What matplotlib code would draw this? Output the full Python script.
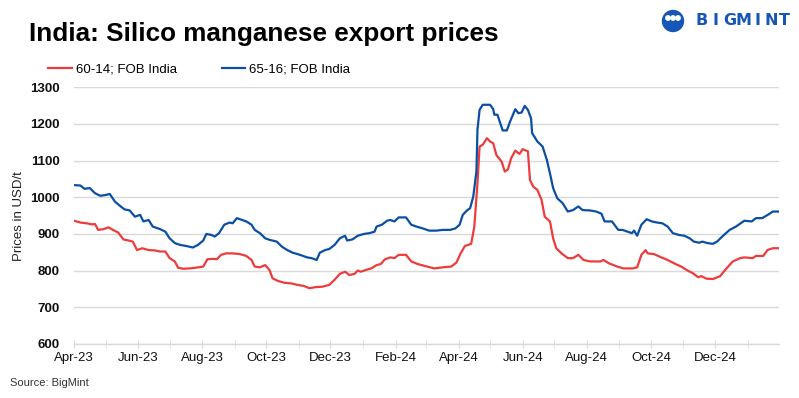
import pandas as pd
import matplotlib
matplotlib.use("Agg")
import matplotlib.pyplot as plt
import matplotlib.dates as mdates
import matplotlib.patches as mpatches

plt.rcParams['font.family'] = ['Liberation Sans', 'DejaVu Sans']

# 60-14; FOB India (USD/t)
dates_6014 = [
    "2023-04-01", "2023-04-07", "2023-04-13", "2023-04-18", "2023-04-21", "2023-04-24",
    "2023-04-29", "2023-05-04", "2023-05-08", "2023-05-13", "2023-05-18", "2023-05-23",
    "2023-05-27", "2023-05-31", "2023-06-05", "2023-06-11", "2023-06-17", "2023-06-22",
    "2023-06-27", "2023-07-01", "2023-07-06", "2023-07-09", "2023-07-14", "2023-07-20",
    "2023-07-26", "2023-08-02", "2023-08-06", "2023-08-11", "2023-08-15", "2023-08-19",
    "2023-08-24", "2023-08-30", "2023-09-06", "2023-09-12", "2023-09-17", "2023-09-20",
    "2023-09-25", "2023-09-30", "2023-10-04", "2023-10-07", "2023-10-12", "2023-10-18",
    "2023-10-25", "2023-10-31", "2023-11-06", "2023-11-11", "2023-11-17", "2023-11-23",
    "2023-11-30", "2023-12-05", "2023-12-10", "2023-12-15", "2023-12-19", "2023-12-24",
    "2023-12-27", "2023-12-30", "2024-01-04", "2024-01-09", "2024-01-14", "2024-01-18",
    "2024-01-22", "2024-01-27", "2024-01-31", "2024-02-04", "2024-02-11", "2024-02-16",
    "2024-02-22", "2024-03-02", "2024-03-09", "2024-03-17", "2024-03-25", "2024-03-30",
    "2024-04-03", "2024-04-07", "2024-04-13", "2024-04-16", "2024-04-19", "2024-04-21",
    "2024-04-24", "2024-04-28", "2024-05-01", "2024-05-04", "2024-05-07", "2024-05-12",
    "2024-05-15", "2024-05-18", "2024-05-21", "2024-05-25", "2024-05-29", "2024-06-01",
    "2024-06-06", "2024-06-08", "2024-06-11", "2024-06-15", "2024-06-19", "2024-06-22",
    "2024-06-27", "2024-06-30", "2024-07-03", "2024-07-08", "2024-07-14", "2024-07-19",
    "2024-07-24", "2024-07-29", "2024-08-04", "2024-08-14", "2024-08-17", "2024-08-22",
    "2024-08-30", "2024-09-05", "2024-09-14", "2024-09-18", "2024-09-22", "2024-09-26",
    "2024-09-28", "2024-10-04", "2024-10-11", "2024-10-17", "2024-10-23", "2024-10-30",
    "2024-11-05", "2024-11-10", "2024-11-15", "2024-11-18", "2024-11-23", "2024-11-29",
    "2024-12-06", "2024-12-12", "2024-12-18", "2024-12-25", "2024-12-29", "2025-01-06",
    "2025-01-09", "2025-01-16", "2025-01-20", "2025-01-25", "2025-01-30",
]
price_6014 = [
    936, 931, 929, 926, 927, 911,
    913, 918, 911, 904, 885, 882,
    879, 856, 861, 856, 855, 852,
    852, 834, 825, 808, 805, 806,
    808, 811, 831, 832, 831, 843,
    847, 847, 845, 840, 829, 811,
    809, 815, 802, 779, 772, 767,
    765, 761, 758, 752, 755, 756,
    761, 775, 791, 797, 788, 791,
    800, 797, 802, 806, 815, 818,
    831, 836, 834, 843, 843, 825,
    818, 811, 806, 809, 811, 822,
    847, 867, 873, 920, 1038, 1138,
    1143, 1161, 1152, 1147, 1115, 1097,
    1070, 1076, 1106, 1127, 1118, 1131,
    1125, 1047, 1029, 1020, 993, 947,
    934, 888, 861, 847, 834, 834,
    843, 829, 825, 825, 829, 820,
    811, 806, 806, 809, 843, 856,
    847, 845, 836, 829, 820, 811,
    800, 793, 782, 785, 778, 777,
    785, 806, 825, 834, 836, 834,
    840, 840, 856, 861, 861,
]

# 65-16; FOB India (USD/t)
dates_6516 = [
    "2023-04-01", "2023-04-07", "2023-04-11", "2023-04-16", "2023-04-21", "2023-04-26",
    "2023-05-01", "2023-05-05", "2023-05-10", "2023-05-15", "2023-05-19", "2023-05-24",
    "2023-05-29", "2023-06-03", "2023-06-06", "2023-06-11", "2023-06-15", "2023-06-22",
    "2023-06-27", "2023-07-01", "2023-07-06", "2023-07-11", "2023-07-17", "2023-07-23",
    "2023-07-28", "2023-08-02", "2023-08-05", "2023-08-10", "2023-08-13", "2023-08-17",
    "2023-08-22", "2023-08-27", "2023-08-30", "2023-09-03", "2023-09-08", "2023-09-12",
    "2023-09-17", "2023-09-20", "2023-09-25", "2023-09-30", "2023-10-04", "2023-10-11",
    "2023-10-16", "2023-10-21", "2023-10-26", "2023-11-02", "2023-11-09", "2023-11-13",
    "2023-11-18", "2023-11-21", "2023-11-26", "2023-11-30", "2023-12-05", "2023-12-10",
    "2023-12-15", "2023-12-17", "2023-12-22", "2023-12-27", "2024-01-02", "2024-01-07",
    "2024-01-12", "2024-01-14", "2024-01-19", "2024-01-24", "2024-01-27", "2024-01-31",
    "2024-02-04", "2024-02-11", "2024-02-16", "2024-02-21", "2024-02-27", "2024-03-04",
    "2024-03-11", "2024-03-17", "2024-03-24", "2024-03-29", "2024-04-02", "2024-04-05",
    "2024-04-09", "2024-04-12", "2024-04-15", "2024-04-18", "2024-04-19", "2024-04-21",
    "2024-04-24", "2024-04-29", "2024-05-01", "2024-05-04", "2024-05-05", "2024-05-08",
    "2024-05-13", "2024-05-17", "2024-05-20", "2024-05-25", "2024-05-28", "2024-05-31",
    "2024-06-03", "2024-06-06", "2024-06-09", "2024-06-10", "2024-06-15", "2024-06-20",
    "2024-06-24", "2024-06-27", "2024-06-30", "2024-07-04", "2024-07-09", "2024-07-14",
    "2024-07-19", "2024-07-24", "2024-07-28", "2024-08-04", "2024-08-10", "2024-08-15",
    "2024-08-18", "2024-08-25", "2024-08-31", "2024-09-04", "2024-09-09", "2024-09-13",
    "2024-09-15", "2024-09-18", "2024-09-22", "2024-09-27", "2024-10-02", "2024-10-07",
    "2024-10-12", "2024-10-17", "2024-10-22", "2024-10-28", "2024-11-02", "2024-11-07",
    "2024-11-11", "2024-11-16", "2024-11-19", "2024-11-24", "2024-11-29", "2024-12-03",
    "2024-12-08", "2024-12-15", "2024-12-21", "2024-12-29", "2025-01-05", "2025-01-09",
    "2025-01-15", "2025-01-22", "2025-01-25", "2025-01-30",
]
price_6516 = [
    1033, 1032, 1023, 1025, 1011, 1004,
    1006, 1009, 988, 976, 967, 964,
    947, 952, 934, 938, 920, 913,
    906, 888, 875, 870, 867, 863,
    870, 882, 900, 897, 893, 902,
    925, 931, 929, 943, 938, 934,
    925, 911, 902, 888, 884, 879,
    865, 856, 849, 843, 836, 834,
    829, 849, 856, 859, 870, 888,
    895, 882, 885, 895, 900, 902,
    906, 920, 925, 936, 938, 934,
    945, 945, 925, 920, 915, 909,
    909, 911, 911, 915, 925, 952,
    964, 970, 1002, 1070, 1184, 1238,
    1252, 1252, 1252, 1240, 1225, 1225,
    1182, 1182, 1206, 1240, 1229, 1231,
    1249, 1238, 1215, 1175, 1152, 1138,
    1102, 1065, 1025, 997, 984, 961,
    965, 975, 965, 964, 961, 955,
    934, 934, 911, 911, 906, 902,
    909, 895, 925, 940, 934, 931,
    929, 920, 902, 897, 895, 888,
    879, 876, 879, 875, 873, 879,
    893, 911, 920, 936, 934, 943,
    943, 955, 961, 961,
]

series_names = ["60-14; FOB India", "65-16; FOB India"]
title = "India: Silico manganese export prices"
y_ticks = [600, 700, 800, 900, 1000, 1100, 1200, 1300]
brand = "BIGMINT"

red = "#ee3b3b"
blue = "#0a4fa3"
logo_blue = "#1656b5"

fig = plt.figure(figsize=(7.99, 3.98), dpi=100)
ax = fig.add_axes([0.0926, 0.1357, 0.8824, 0.6453])

ax.plot(pd.to_datetime(dates_6014), price_6014, color=red, lw=1.6, label=series_names[0])
ax.plot(pd.to_datetime(dates_6516), price_6516, color=blue, lw=1.6, label=series_names[1])

ax.set_ylim(600, 1300)
ax.set_yticks(y_ticks)
ax.set_xlim(pd.Timestamp("2023-04-01"), pd.Timestamp("2025-01-31"))
ax.xaxis.set_major_locator(mdates.MonthLocator(bymonth=[2, 4, 6, 8, 10, 12]))
ax.xaxis.set_major_formatter(mdates.DateFormatter("%b-%y"))
ax.xaxis.set_minor_locator(mdates.MonthLocator())

ax.grid(axis='y', color='#d9d9d9', lw=1)
ax.set_axisbelow(True)
for s in ['top', 'right', 'left']:
    ax.spines[s].set_visible(False)
ax.spines['bottom'].set_color('#d9d9d9')
ax.spines['bottom'].set_linewidth(1)

ax.tick_params(axis='y', length=0, pad=10, labelsize=9.5, labelcolor='#111111')
for lab in ax.get_yticklabels():
    lab.set_fontweight('bold')
ax.tick_params(axis='x', which='both', direction='inout', length=6, color='#d9d9d9',
               labelsize=9.5, labelcolor='#111111', pad=3)

ax.set_ylabel("Prices in USD/t", fontsize=9.5, color='#222222')
ax.yaxis.set_label_coords(-0.07, 0.5)

fig.text(0.036, 0.915, title, fontsize=18.8, fontweight='bold', va='center', ha='left')
fig.text(0.012, 0.037, "Source: BigMint", fontsize=8, color='#333333', va='center')

# legend
fig.legend(loc='center left', bbox_to_anchor=(0.060, 0.826), ncol=2, frameon=False,
           fontsize=9.5, handlelength=1.8, handletextpad=0.3, columnspacing=3.4,
           borderpad=0, borderaxespad=0)

# logo: spaced letters + round icon
for i, ch in enumerate(brand):
    fig.text((702 + i * 13.8) / 799, 0.948, ch, fontsize=11.5, fontweight='bold',
             color=logo_blue, va='center', ha='center', family='DejaVu Sans')
fig.add_artist(mpatches.Circle((6.73, 3.77), 0.105, transform=fig.dpi_scale_trans,
                               color=logo_blue, clip_on=False))
for dx in (-0.05, 0.0, 0.05):
    fig.add_artist(mpatches.Circle((6.73 + dx, 3.80), 0.022, transform=fig.dpi_scale_trans,
                                   color='white', clip_on=False))

fig.savefig("out.png", dpi=100)
